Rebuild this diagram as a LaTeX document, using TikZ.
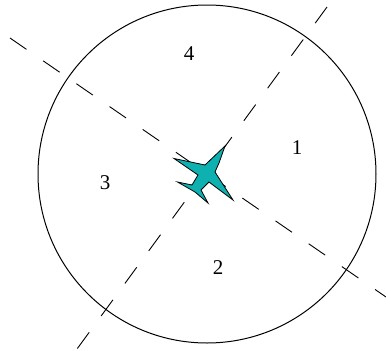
\documentclass[tikz,border=0pt]{standalone}
\usepackage{fontspec}
\setmainfont{Liberation Serif}
\usetikzlibrary{positioning}
\definecolor{planeteal}{HTML}{0FB0B0}
\tikzset{
  zone/.style   = {font=\fontsize{21}{24}\selectfont, inner sep=0pt},
  axisline/.style = {draw=black, line width=0.9pt, dash pattern=on 20pt off 20.3pt},
  rim/.style    = {circle, draw=black, line width=1pt, minimum size=338pt, inner sep=0pt},
  plane/.style  = {fill=planeteal, draw=black, line width=0.8pt, line join=miter},
}
\begin{document}
\begin{tikzpicture}[x=1pt,y=-1pt]
  \useasboundingbox (0,0) rectangle (386,351);

  % ----- range circle -----
  \node[rim] (range) at (207,174) {};

  % ----- dashed axes -----
  \coordinate (axisAstart) at (10,38);
  \coordinate (axisAend) at (386,297);
  \coordinate (axisBstart) at (327,7);
  \coordinate (axisBend) at (77,349);
  \draw[axisline] (axisAstart) -- (axisAend);
  \draw[axisline] (axisBstart) -- (axisBend);

  % ----- aircraft -----
  \draw[plane] (225,146) -- (219,163) -- (215,172) -- (233,200) -- (209,182) -- (201,190)
    -- (208,203) -- (195,192) -- (177.5,182) -- (192,185) -- (198,175)
    -- (174,158.5) -- (205,165) -- cycle;

  % ----- sectors -----
  \node[zone] (sector1) at (297,148) {1};
  \node[zone] (sector2) at (218,268) {2};
  \node[zone] (sector3) at (105,183) {3};
  \node[zone] (sector4) at (189,54) {4};
\end{tikzpicture}
\end{document}
